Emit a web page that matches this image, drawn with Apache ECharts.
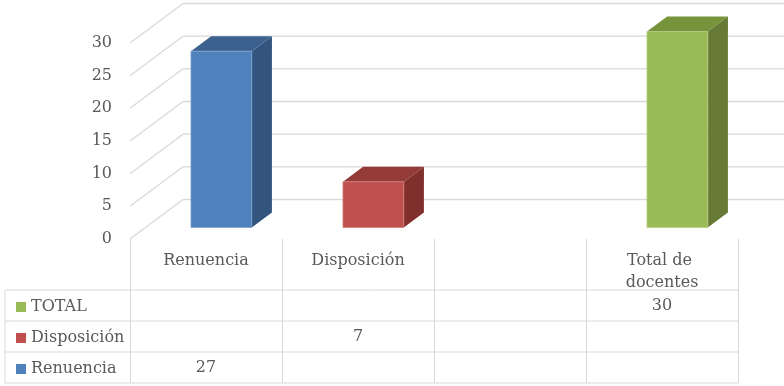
<!DOCTYPE html>
<html>
<head>
<meta charset="utf-8">
<script src="https://cdn.jsdelivr.net/npm/echarts@6/dist/echarts.min.js"></script>
<style>
html,body{margin:0;padding:0;background:#fff;}
#main{width:784px;height:386px;}
</style>
</head>
<body>
<div id="main"></div>
<script>
// ---- data ----
const categories = ['Renuencia', 'Disposición', '', 'Total de docentes'];
const yTicks = [0, 5, 10, 15, 20, 25, 30];
const seriesNames = ['TOTAL', 'Disposición', 'Renuencia'];
const totalValues = [null, null, null, 30];
const disposicionValues = [null, 7, null, null];
const renuenciaValues = [27, null, null, null];

// ---- styling / geometry ----
const FONT = 'DejaVu Serif';
const TXT = '#595959';
const LINE = '#D9D9D9';
const DX = 53, DY = -39.5;     // full depth of the floor
const F0 = 0.29, F1 = 0.67;    // bar front / back depth fractions
const BAR_W = 0.40;            // fraction of band
const TABLE_TOP = 51;          // px below floor front edge
const ROW_H = 31;
const TABLE_LEFT = 5;

const palette = {
  'TOTAL':       {front: '#9BBB59', top: '#77933C', side: '#667A36', edge: '#B3CC80'},
  'Disposición': {front: '#C0504D', top: '#943A37', side: '#802F2D', edge: '#D27D7B'},
  'Renuencia':   {front: '#4F81BD', top: '#3C618F', side: '#32547F', edge: '#7FA2CE'}
};

function toPoints(arr) {
  const out = [];
  arr.forEach((v, i) => { if (v !== null && v !== undefined) out.push([i, v]); });
  return out;
}

function barSeries(name, values, row) {
  const col = palette[name];
  return {
    name: name,
    type: 'custom',
    itemStyle: {color: col.front},
    data: toPoints(values),
    encode: {x: 0, y: 1},
    renderItem: function (params, api) {
      const c = api.value(0), v = api.value(1);
      const pt = api.coord([c, v]);
      const base = api.coord([c, 0]);
      const band = api.size([1, 0])[0];
      const bw = band * BAR_W;
      const x0 = pt[0] - bw / 2 + F0 * DX;
      const x1 = x0 + bw;
      const yt = pt[1] + F0 * DY;
      const yb = base[1] + F0 * DY;
      const ddx = (F1 - F0) * DX, ddy = (F1 - F0) * DY;
      const tableTop = base[1] + TABLE_TOP;
      return {
        type: 'group',
        children: [
          {type: 'polygon', shape: {points: [[x1, yt], [x1 + ddx, yt + ddy], [x1 + ddx, yb + ddy], [x1, yb]]},
           style: {fill: col.side}},
          {type: 'polygon', shape: {points: [[x0, yt], [x1, yt], [x1 + ddx, yt + ddy], [x0 + ddx, yt + ddy]]},
           style: {fill: col.top}},
          {type: 'rect', shape: {x: x0, y: yt, width: bw, height: yb - yt},
           style: {fill: col.front, stroke: col.edge, lineWidth: 0.8}},
          {type: 'text', style: {text: String(v), x: base[0], y: tableTop + ROW_H * (row + 0.5),
            align: 'center', verticalAlign: 'middle', fill: TXT, fontSize: 16, fontFamily: FONT}}
        ]
      };
    }
  };
}

const gridSeries = {
  name: 'grid3d',
  type: 'custom',
  silent: true,
  z: 1,
  data: yTicks.map(v => [0, v]),
  encode: {x: 0, y: 1},
  renderItem: function (params, api) {
    const v = api.value(1);
    const p = api.coord([0, v]);
    const band = api.size([1, 0])[0];
    const xl = p[0] - band / 2;
    const y = p[1];
    return {
      type: 'group',
      children: [
        {type: 'line', shape: {x1: xl, y1: y, x2: xl + DX, y2: y + DY}, style: {stroke: LINE, lineWidth: 1.3}},
        {type: 'line', shape: {x1: xl + DX, y1: y + DY, x2: api.getWidth(), y2: y + DY}, style: {stroke: LINE, lineWidth: 1.3}}
      ]
    };
  }
};

const tableSeries = {
  name: 'table',
  type: 'custom',
  silent: true,
  z: 1,
  data: [[0, 0], [1, 0], [2, 0], [3, 0]],
  encode: {x: 0, y: 1},
  renderItem: function (params, api) {
    const r = api.value(0);
    const base = api.coord([0, 0]);
    const band = api.size([1, 0])[0];
    const right = base[0] - band / 2 + band * categories.length;
    const y = base[1] + TABLE_TOP + r * ROW_H;
    const children = [
      {type: 'line', shape: {x1: TABLE_LEFT, y1: y, x2: right, y2: y}, style: {stroke: LINE, lineWidth: 1}}
    ];
    if (r === 0) {
      children.push({type: 'line', shape: {x1: TABLE_LEFT, y1: y, x2: TABLE_LEFT, y2: y + ROW_H * 3},
        style: {stroke: LINE, lineWidth: 1}});
    }
    return {type: 'group', children: children};
  }
};

const chart = echarts.init(document.getElementById('main'), null, {renderer: 'canvas'});
chart.setOption({
  backgroundColor: '#ffffff',
  animation: false,
  grid: {left: 130, right: 46, top: 43, bottom: 147, containLabel: false, outerBoundsMode: 'none'},
  legend: {
    orient: 'vertical', left: 11, top: 294,
    itemWidth: 10, itemHeight: 10, itemGap: 15, icon: 'rect',
    selectedMode: false,
    textStyle: {color: TXT, fontSize: 16, fontFamily: FONT},
    data: seriesNames
  },
  xAxis: {
    type: 'category',
    data: categories,
    axisLine: {show: false},
    axisTick: {show: true, length: 144, lineStyle: {color: LINE, width: 1}},
    axisLabel: {interval: 0, margin: 11, color: TXT, fontSize: 16, fontFamily: FONT,
      lineHeight: 22, width: 120, overflow: 'break'},
    splitLine: {show: false}
  },
  yAxis: {
    type: 'value',
    min: 0, max: 30, interval: 5,
    axisLine: {show: false},
    axisTick: {show: false},
    splitLine: {show: false},
    axisLabel: {color: TXT, fontSize: 16, fontFamily: FONT, margin: 18}
  },
  series: [
    gridSeries,
    tableSeries,
    barSeries('TOTAL', totalValues, 0),
    barSeries('Disposición', disposicionValues, 1),
    barSeries('Renuencia', renuenciaValues, 2)
  ]
});
</script>
</body>
</html>
